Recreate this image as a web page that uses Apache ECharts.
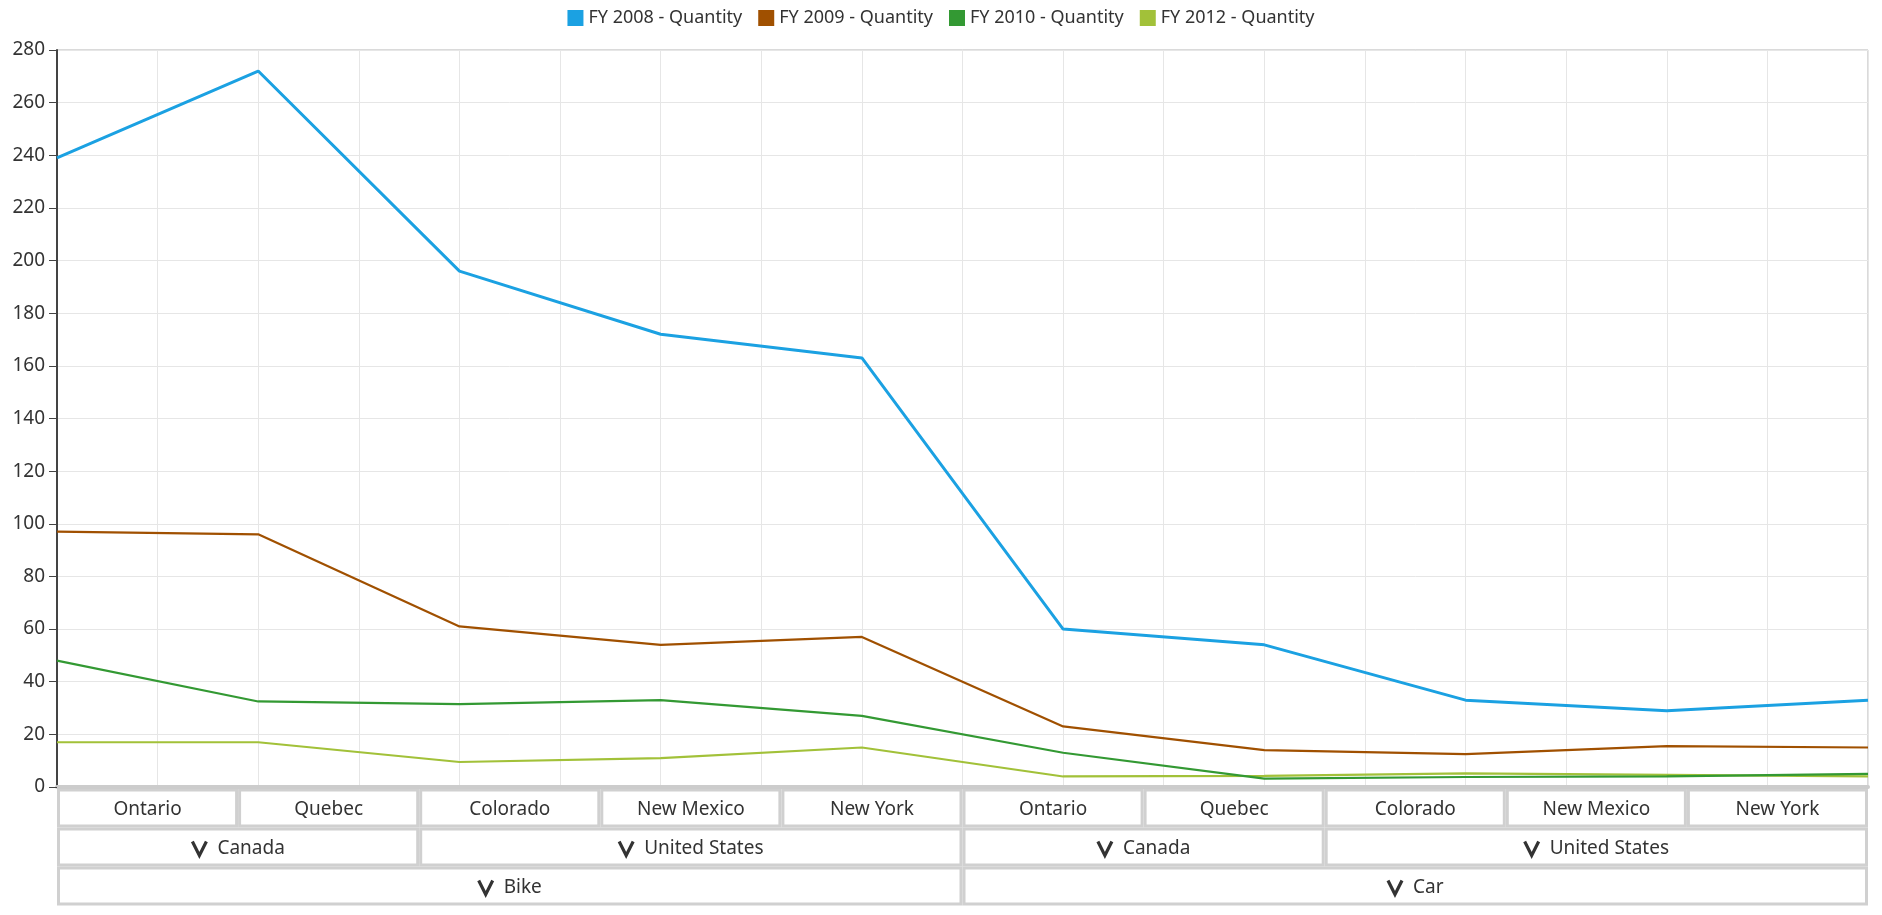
<!DOCTYPE html>
<html>
<head>
<meta charset="utf-8">
<script src="https://cdn.jsdelivr.net/npm/echarts@6/dist/echarts.min.js"></script>
<style>
  html, body { margin: 0; padding: 0; background: #fff; }
  #main { width: 1882px; height: 915px; }
</style>
</head>
<body>
<div id="main"></div>
<script>
// data
const states = ['Ontario', 'Quebec', 'Colorado', 'New Mexico', 'New York',
                'Ontario', 'Quebec', 'Colorado', 'New Mexico', 'New York'];
const countries = [['Canada', 2], ['United States', 3], ['Canada', 2], ['United States', 3]];
const products = [['Bike', 5], ['Car', 5]];
const seriesNames = ['FY 2008 - Quantity', 'FY 2009 - Quantity', 'FY 2010 - Quantity', 'FY 2012 - Quantity'];
const fy2008 = [239, 272, 196, 172, 163, 60, 54, 33, 29, 33];
const fy2009 = [97, 96, 61, 54, 57, 23, 14, 12.5, 15.5, 15];
const fy2010 = [48, 32.5, 31.5, 33, 27, 13, 3.2, 3.8, 4, 5];
const fy2012 = [17, 17, 9.5, 11, 15, 4, 4.2, 5.2, 4.6, 4];

const colors = ['#1ba1e2', '#a05000', '#339933', '#a2c139'];
const FONT = '"Noto Sans", sans-serif';

// layout
const G = { left: 57, right: 14, top: 50, bottom: 128 };
const rowTop = 788.5, rowH = 39;

const chart = echarts.init(document.getElementById('main'));

const measure = document.createElement('canvas').getContext('2d');
function textW(t, size) {
  measure.font = size + 'px ' + FONT;
  return measure.measureText(t).width;
}

function headerGraphics() {
  const x0 = G.left, x1 = 1882 - G.right;
  const cw = (x1 - x0) / states.length;
  const out = [];
  const cell = (x, y, w, label, chevron) => {
    out.push({
      type: 'rect', silent: true,
      shape: { x: x + 1.5, y: y + 1.5, width: w - 3, height: rowH - 3 },
      style: { fill: '#fff', stroke: '#d0d0d0', lineWidth: 3 }
    });
    const fs = 19;
    const tw = textW(label, fs);
    const cx = x + w / 2, cy = y + rowH / 2 + 1.5;
    let tx = cx - tw / 2;
    if (chevron) {
      const total = 16 + 10 + tw;
      const sx = cx - total / 2;
      out.push({
        type: 'polyline', silent: true,
        shape: { points: [[sx + 1, cy - 7], [sx + 8, cy + 7], [sx + 15, cy - 7]] },
        style: { stroke: '#333', lineWidth: 3.2, fill: null }
      });
      tx = sx + 26;
    }
    out.push({
      type: 'text', silent: true, x: tx, y: cy,
      style: { text: label, font: fs + 'px ' + FONT, fill: '#333', textAlign: 'left', textVerticalAlign: 'middle' }
    });
  };
  states.forEach((s, i) => cell(x0 + i * cw, rowTop, cw, s, false));
  let k = 0;
  countries.forEach(([c, n]) => { cell(x0 + k * cw, rowTop + rowH, n * cw, c, true); k += n; });
  k = 0;
  products.forEach(([p, n]) => { cell(x0 + k * cw, rowTop + 2 * rowH, n * cw, p, true); k += n; });
  return out;
}

const allData = [fy2008, fy2009, fy2010, fy2012];

const option = {
  animation: false,
  color: colors,
  textStyle: { fontFamily: FONT },
  legend: {
    top: 4,
    left: 'center',
    icon: 'rect',
    itemWidth: 16,
    itemHeight: 16,
    itemGap: 16,
    textStyle: { fontSize: 18, color: '#333', fontFamily: FONT },
    data: seriesNames
  },
  grid: {
    left: G.left, right: G.right, top: G.top, bottom: G.bottom,
    show: true, borderColor: '#b4b4b4', borderWidth: 1
  },
  xAxis: [
    {
      type: 'category',
      data: states.map((s, i) => s + '|' + i),
      boundaryGap: false,
      axisLine: { show: true, lineStyle: { color: '#cccccc', width: 4 } },
      axisTick: { show: false },
      axisLabel: { show: false },
      splitLine: { show: false }
    },
    {
      // half-category grid lines
      type: 'value',
      min: 0, max: (states.length - 1) * 2, interval: 1,
      axisLine: { show: false },
      axisTick: { show: false },
      axisLabel: { show: false },
      splitLine: { show: true, lineStyle: { color: '#e6e6e6', width: 1 } }
    }
  ],
  yAxis: {
    type: 'value',
    min: 0, max: 280, interval: 20,
    axisLine: { show: true, lineStyle: { color: '#444', width: 2 } },
    axisTick: { show: true, length: 8, lineStyle: { color: '#444' } },
    axisLabel: { fontSize: 19, color: '#333', margin: 12, fontFamily: FONT },
    splitLine: { show: true, lineStyle: { color: '#e6e6e6' } }
  },
  graphic: headerGraphics(),
  series: allData.map((d, i) => ({
    name: seriesNames[i],
    type: 'line',
    data: d,
    symbol: 'none',
    lineStyle: { width: i === 0 ? 3 : 2.2, color: colors[i] },
    itemStyle: { color: colors[i] },
    z: 10 - i
  }))
};

chart.setOption(option);
</script>
</body>
</html>
